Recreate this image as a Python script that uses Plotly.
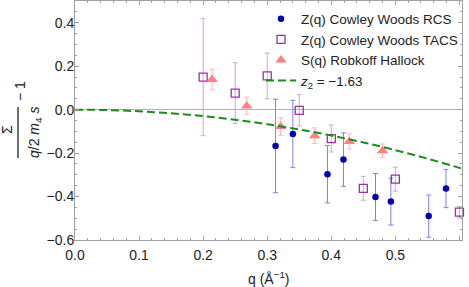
import plotly.graph_objects as go

# ---- data ----
rcs_q = [0.313, 0.340, 0.394, 0.419, 0.469, 0.493, 0.552, 0.579]
rcs_v = [-0.167, -0.112, -0.297, -0.230, -0.402, -0.423, -0.490, -0.363]
rcs_e = [0.215, 0.155, 0.132, 0.123, 0.108, 0.108, 0.097, 0.088]

tacs_q = [0.20, 0.25, 0.30, 0.35, 0.40, 0.45, 0.50, 0.60]
tacs_v = [0.150, 0.076, 0.155, -0.003, -0.133, -0.362, -0.320, -0.472]
tacs_e = [0.270, 0.140, 0.105, 0.072, 0.062, 0.055, 0.055, 0.026]

rh_q = [0.214, 0.268, 0.321, 0.374, 0.428, 0.480]
rh_v = [0.139, 0.017, -0.078, -0.120, -0.147, -0.189]
rh_e = [0.047, 0.040, 0.040, 0.036, 0.035, 0.031]

fit_q = [0.0, 0.05, 0.10, 0.15, 0.20, 0.25, 0.30, 0.35, 0.40, 0.45, 0.50, 0.55, 0.60, 0.61]
fit_v = [0.0, -0.0019, -0.0075, -0.0168, -0.0298, -0.0466, -0.0671, -0.0913,
         -0.1192, -0.1509, -0.1863, -0.2254, -0.2682, -0.2772]

x_ticks = [0.0, 0.1, 0.2, 0.3, 0.4, 0.5, 0.6]
x_ticktext = ["0.0", "0.1", "0.2", "0.3", "0.4", "0.5", "0.6"]
y_ticks = [-0.6, -0.4, -0.2, 0.0, 0.2, 0.4]
y_ticktext = ["\u22120.6", "\u22120.4", "\u22120.2", "0.0", "0.2", "0.4"]

FONT = "Liberation Sans, Arial, sans-serif"
FRAME = "#a0a0a0"

fig = go.Figure()

fig.add_trace(go.Scatter(
    x=rcs_q, y=rcs_v, mode="markers", name="Z(q) Cowley Woods RCS",
    marker=dict(symbol="circle", size=6.5, color="#0000b0"),
    error_y=dict(type="data", array=rcs_e, color="#8080e0", thickness=1, width=2.5),
))
fig.add_trace(go.Scatter(
    x=tacs_q, y=tacs_v, mode="markers", name="Z(q) Cowley Woods TACS",
    marker=dict(symbol="square-open", size=8, color="#9a30a8", line=dict(width=1.3)),
    error_y=dict(type="data", array=tacs_e, color="#d8a0e0", thickness=1, width=2.5),
    cliponaxis=False,
))
fig.add_trace(go.Scatter(
    x=rh_q, y=rh_v, mode="markers", name="S(q) Robkoff Hallock",
    marker=dict(symbol="triangle-up", size=10, color="#ff8080"),
    error_y=dict(type="data", array=rh_e, color="#ffb8b8", thickness=1, width=2.5),
))
fig.add_trace(go.Scatter(
    x=fit_q, y=fit_v, mode="lines", name="<i>z</i><sub>2</sub> = \u22121.63",
    line=dict(color="#1e8a1e", width=2, dash="8px,4px", shape="spline"),
))

axis_common = dict(
    showline=True, linecolor=FRAME, linewidth=1, mirror="allticks",
    ticks="inside", ticklen=4, tickcolor=FRAME, tickwidth=1,
    showgrid=False,
    tickfont=dict(family=FONT, size=14, color="#222"),
)

fig.update_xaxes(
    range=[0, 0.604], tickvals=x_ticks, ticktext=x_ticktext, zeroline=False,
    ticklabelstandoff=2,
    minor=dict(dtick=0.02, ticklen=2, ticks="inside", tickcolor=FRAME, showgrid=False),
    **axis_common,
)
fig.update_yaxes(
    range=[-0.6, 0.5], tickvals=y_ticks, ticktext=y_ticktext,
    zeroline=True, zerolinecolor="#b0b0b0", zerolinewidth=1,
    ticklabelstandoff=-3,
    minor=dict(dtick=0.05, ticklen=2, ticks="inside", tickcolor=FRAME, showgrid=False),
    **axis_common,
)

L, R, T, B = 75, 7, 1, 47
W, H = 469, 287
pw, ph = W - L - R, H - T - B

def px(xp):
    return (xp - L) / pw

def py(yp):
    return (H - B - yp) / ph

annos = [
    dict(text="q (\u00c5<sup>\u22121</sup>)", x=0.5, y=py(278), xanchor="center", yanchor="middle",
         font=dict(family=FONT, size=14, color="#222")),
    dict(text="\u03a3", x=px(7), y=py(130), textangle=-90, xanchor="center", yanchor="middle",
         font=dict(family=FONT, size=14, color="#222")),
    dict(text="<i>q</i>/2 <i>m</i><sub>4</sub> <i>s</i>", x=px(35), y=py(133), textangle=-90,
         xanchor="center", yanchor="middle", font=dict(family=FONT, size=14, color="#222")),
    dict(text="\u2212 1", x=px(20), y=py(91), textangle=-90, xanchor="center", yanchor="middle",
         font=dict(family=FONT, size=14, color="#222")),
]
for a in annos:
    a.update(xref="paper", yref="paper", showarrow=False)

fig.update_layout(
    width=W, height=H, margin=dict(l=L, r=R, t=T, b=B, autoexpand=False),
    paper_bgcolor="white", plot_bgcolor="white",
    showlegend=True,
    legend=dict(x=px(261), y=py(3.5), xanchor="left", yanchor="top",
                bgcolor="rgba(255,255,255,0)", borderwidth=0, tracegroupgap=0,
                font=dict(family=FONT, size=13.5, color="#222")),
    annotations=annos,
    shapes=[dict(type="line", xref="paper", yref="paper", x0=px(18), x1=px(18),
                 y0=py(158), y1=py(107), line=dict(color="#222", width=1.3))],
)

fig.write_html(
    "out.html",
    config={"displayModeBar": False},
    post_script="document.body.style.margin='0';document.body.style.overflow='hidden';",
)
